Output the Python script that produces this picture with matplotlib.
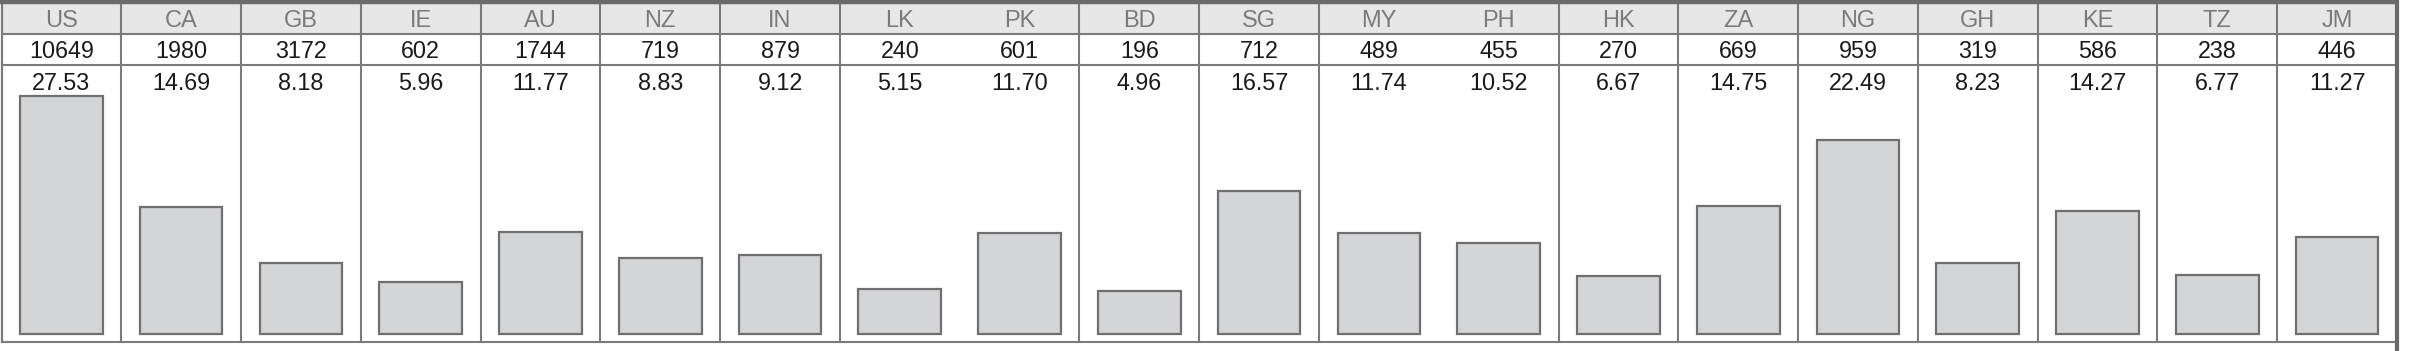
import matplotlib
matplotlib.use("Agg")
import matplotlib.pyplot as plt
from matplotlib.transforms import blended_transform_factory
from matplotlib.patches import Rectangle

# ---- data ----
countries = ["US", "CA", "GB", "IE", "AU", "NZ", "IN", "LK", "PK", "BD",
             "SG", "MY", "PH", "HK", "ZA", "NG", "GH", "KE", "TZ", "JM"]
counts = [10649, 1980, 3172, 602, 1744, 719, 879, 240, 601, 196,
          712, 489, 455, 270, 669, 959, 319, 586, 238, 446]
values = [27.53, 14.69, 8.18, 5.96, 11.77, 8.83, 9.12, 5.15, 11.70, 4.96,
          16.57, 11.74, 10.52, 6.67, 14.75, 22.49, 8.23, 14.27, 6.77, 11.27]
value_labels = ["27.53", "14.69", "8.18", "5.96", "11.77", "8.83", "9.12", "5.15",
                "11.70", "4.96", "16.57", "11.74", "10.52", "6.67", "14.75",
                "22.49", "8.23", "14.27", "6.77", "11.27"]
merged_pairs = [("LK", "PK"), ("MY", "PH")]

# ---- layout (pixels) ----
W, H = 2412, 351
left_px, right_px = 1.5, 2397.0
top_px, bottom_px = 3.0, 342.0
zero_px = 334.0
px_per_unit = 8.645

fig = plt.figure(figsize=(W / 100, H / 100), dpi=100)
fig.patch.set_facecolor("white")
ax = fig.add_axes([left_px / W, 1 - bottom_px / H,
                   (right_px - left_px) / W, (bottom_px - top_px) / H])
n = len(countries)
ax.set_xlim(-0.5, n - 0.5)
ax.set_ylim(-(bottom_px - zero_px) / px_per_unit, (zero_px - top_px) / px_per_unit)
ax.axis("off")

def fy(p):
    return (bottom_px - p) / (bottom_px - top_px)

tr = blended_transform_factory(ax.transData, ax.transAxes)
line_c = "#7b7b7b"

# header background
ax.add_patch(Rectangle((0, fy(34)), 1, fy(3) - fy(34), transform=ax.transAxes,
                       facecolor="#e7e7e8", edgecolor="none", zorder=0))

# bars
x = list(range(n))
ax.bar(x, values, width=0.69, color="#d3d4d6", edgecolor="#6f6f6f",
       linewidth=1.6, zorder=2)

# texts
font = "Liberation Sans"
for i in range(n):
    ax.text(i, fy(21), countries[i], transform=tr, ha="center", va="center",
            fontsize=17, color="#7a7a7a", family=font)
    ax.text(i, fy(51.5), str(counts[i]), transform=tr, ha="center", va="center",
            fontsize=16.8, color="#1a1a1a", family=font)
    ax.text(i, fy(83.5), value_labels[i], transform=tr, ha="center", va="center",
            fontsize=16.8, color="#1a1a1a", family=font)

# horizontal rules
for p in (34, 65):
    ax.plot([0, 1], [fy(p), fy(p)], transform=ax.transAxes, color=line_c,
            lw=1.5, clip_on=False, zorder=3)
ax.plot([0, 1], [fy(bottom_px), fy(bottom_px)], transform=ax.transAxes,
        color=line_c, lw=1.5, clip_on=False, zorder=3)
# top border
ax.plot([-0.002, 1.001], [fy(2), fy(2)], transform=ax.transAxes, color="#6a6a6a",
        lw=3.2, clip_on=False, zorder=4, solid_capstyle="butt")

# vertical separators
skip = set()
for a, b in merged_pairs:
    skip.add(countries.index(a))
for i in range(n - 1):
    if i in skip:
        continue
    ax.plot([i + 0.5, i + 0.5], [fy(3), fy(bottom_px)], transform=tr,
            color=line_c, lw=1.5, clip_on=False, zorder=3)
# left border
ax.plot([0, 0], [fy(3), fy(bottom_px)], transform=ax.transAxes, color=line_c,
        lw=1.6, clip_on=False, zorder=3)
# right border (thick, runs to the bottom edge)
ax.plot([1, 1], [fy(1), fy(351)], transform=ax.transAxes, color="#6a6a6a",
        lw=3.0, clip_on=False, zorder=4)

fig.savefig("out.png", dpi=100, facecolor="white")
